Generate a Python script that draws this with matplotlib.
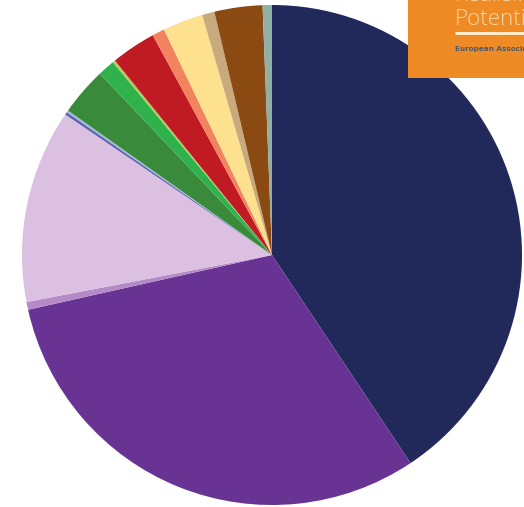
import matplotlib
matplotlib.use("Agg")
import matplotlib.pyplot as plt
from matplotlib.patches import Rectangle

# Share of each segment (percent), clockwise from 12 o'clock
segments = ["Navy", "Purple", "Mauve", "Lavender", "Blue", "Light blue",
            "Dark green", "Green", "Lime", "Red", "Salmon", "Yellow",
            "Tan", "Brown", "Grey"]
shares = [40.6, 30.8, 0.5, 12.5, 0.17, 0.14,
          3.1, 1.1, 0.17, 2.9, 0.8, 2.6,
          0.8, 3.1, 0.6]
colors = ["#20295a", "#683392", "#b58ac8", "#dcc0e2", "#5a5fae", "#a0b6da",
          "#3a8a3c", "#2fb24c", "#b0cc5c", "#c01b23", "#f2835f", "#fde18e",
          "#c9aa7c", "#8a4a12", "#8fb0a2"]

W, H = 524, 507
fig = plt.figure(figsize=(W / 100, H / 100), dpi=100)
fig.patch.set_facecolor("white")

cx, cy, r = 272, 255, 250
ax = fig.add_axes([0, 0, 1, 1])
ax.pie(shares, colors=colors, startangle=90, counterclock=False,
       radius=1.0, wedgeprops=dict(linewidth=0))
ax.set_xlim(-cx / r, (W - cx) / r)
ax.set_ylim(-(H - cy) / r, cy / r)
ax.set_aspect("auto")
ax.axis("off")

# Logo badge in the top-right corner
lx0, ly1 = 408, 78
lax = fig.add_axes([lx0 / W, (H - ly1) / H, (W - lx0) / W, ly1 / H])
lax.set_xlim(lx0, W)
lax.set_ylim(ly1, 0)
lax.axis("off")
lax.add_patch(Rectangle((lx0, 0), W - lx0, ly1, facecolor="#ee8b25",
                        edgecolor="none", clip_on=True))
lax.text(455, 25, "Potential", fontsize=16.2, color="#fbd6a6",
         family="Open Sans", fontweight="light", va="baseline", ha="left",
         clip_on=True)
lax.text(455, 1.5, "Realising", fontsize=16.2, color="#fbd6a6",
         family="Open Sans", fontweight="light", va="baseline", ha="left",
         clip_on=True)
lax.plot([455, W], [33, 33], color="#fff3d8", linewidth=2.0,
         solid_capstyle="butt", clip_on=True)
lax.text(455, 51, "European Association", fontsize=5.2, color="#4c5a6e",
         va="baseline", ha="left", fontweight="bold", clip_on=True)

fig.savefig("out.png", dpi=100)
